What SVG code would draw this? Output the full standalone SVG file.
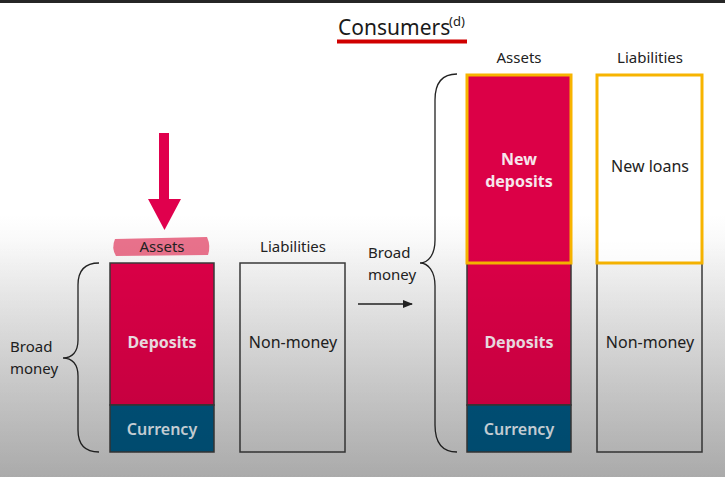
<svg xmlns="http://www.w3.org/2000/svg" width="725" height="477" viewBox="0 0 725 477">
  <defs>
    <linearGradient id="bg" x1="0" y1="0" x2="0" y2="1">
      <stop offset="0" stop-color="#ffffff"/>
      <stop offset="0.45" stop-color="#ffffff"/>
      <stop offset="1" stop-color="#c6c6c6"/>
    </linearGradient>
    <linearGradient id="shade" x1="0" y1="0" x2="0" y2="477" gradientUnits="userSpaceOnUse">
      <stop offset="0" stop-color="#000" stop-opacity="0"/>
      <stop offset="0.5" stop-color="#000" stop-opacity="0"/>
      <stop offset="1" stop-color="#000" stop-opacity="0.14"/>
    </linearGradient>
    <marker id="ah" markerWidth="10" markerHeight="8" refX="9" refY="4" orient="auto" markerUnits="userSpaceOnUse">
      <path d="M0,0 L10,4 L0,8 Z" fill="#222"/>
    </marker>
    <style>
      text { font-family: "Noto Sans", "Open Sans", sans-serif; }
      .lbl { font-size: 15px; fill: #222; }
      .in { font-size: 16px; text-anchor: middle; }
      .light { fill: #f6e6ec; font-weight: bold; }
      .dark { fill: #222; }
      .red { fill: #dc0047; }
      .blue { fill: #00557e; }
      .box { stroke: #3a3a3a; stroke-width: 1.5; }
      .hl { fill: none; stroke: #f7b400; stroke-width: 3; }
      .brace { fill: none; stroke: #222; stroke-width: 1.3; }
    </style>
  </defs>
  <rect width="725" height="477" fill="url(#bg)"/>
  <rect width="725" height="3" fill="#262626"/>

  <g id="title">
    <text x="338" y="35" style="font-size:21px;fill:#1a1a1a">Consumers</text>
    <text x="449" y="26" style="font-size:13px;fill:#1a1a1a">(d)</text>
    <rect x="337" y="39.5" width="130" height="4" fill="#d00000"/>
  </g>

  <g id="pointer">
    <rect x="159" y="133" width="10" height="69" fill="#e0004d"/>
    <polygon points="148,199 181,199 164.5,230" fill="#e0004d"/>
  </g>

  <g id="before-assets">
    <path d="M115,239 L207,237 Q211,246 208,255 L116,256 Q111,248 115,239 Z" fill="#e8718b"/>
    <text class="lbl" x="162" y="252" text-anchor="middle">Assets</text>
    <rect class="box red" x="110" y="263" width="104" height="142"/>
    <rect class="box blue" x="110" y="405" width="104" height="47"/>
    <text class="in light" x="162" y="348">Deposits</text>
    <text class="in light" x="162" y="435" style="font-weight:600;fill:#dde5ec">Currency</text>
  </g>

  <g id="before-liabilities">
    <text class="lbl" x="293" y="252" text-anchor="middle">Liabilities</text>
    <rect class="box" x="240" y="263" width="105" height="189" fill="none"/>
    <text class="in dark" x="293" y="348">Non-money</text>
  </g>

  <g id="before-brace">
    <path class="brace" d="M99,263 C85,263 78,270 78,285 L78,340 C78,352 72,358 63,358 C72,358 78,364 78,376 L78,430 C78,445 85,452 99,452"/>
    <text class="lbl" x="10" y="352">Broad</text>
    <text class="lbl" x="10" y="374">money</text>
  </g>

  <g id="connectors">
    <line x1="358" y1="304" x2="412" y2="304" stroke="#222" stroke-width="1.3" marker-end="url(#ah)"/>
  </g>

  <g id="after-brace">
    <path class="brace" d="M457,74 C442,74 435,83 435,100 L435,240 C435,255 428,263 420,263 C428,263 435,271 435,286 L435,425 C435,443 442,452 457,452"/>
    <text class="lbl" x="368" y="258">Broad</text>
    <text class="lbl" x="368" y="280">money</text>
  </g>

  <g id="after-assets">
    <text class="lbl" x="519" y="63" text-anchor="middle">Assets</text>
    <rect class="box red" x="467" y="263" width="104" height="142"/>
    <rect class="box blue" x="467" y="405" width="104" height="47"/>
    <rect class="red" x="467" y="75" width="104" height="188"/>
    <rect class="hl" x="467" y="75" width="104" height="188"/>
    <text class="in light" x="519" y="165">New</text>
    <text class="in light" x="519" y="187">deposits</text>
    <text class="in light" x="519" y="348">Deposits</text>
    <text class="in light" x="519" y="435" style="font-weight:600;fill:#dde5ec">Currency</text>
  </g>

  <g id="after-liabilities">
    <text class="lbl" x="650" y="63" text-anchor="middle">Liabilities</text>
    <rect class="box" x="597" y="263" width="105" height="189" fill="none"/>
    <rect x="597" y="75" width="105" height="188" fill="#fff"/>
    <rect class="hl" x="597" y="75" width="105" height="188"/>
    <text class="in dark" x="650" y="172">New loans</text>
    <text class="in dark" x="650" y="348">Non-money</text>
  </g>

  <rect width="725" height="477" fill="url(#shade)" pointer-events="none"/>
</svg>
